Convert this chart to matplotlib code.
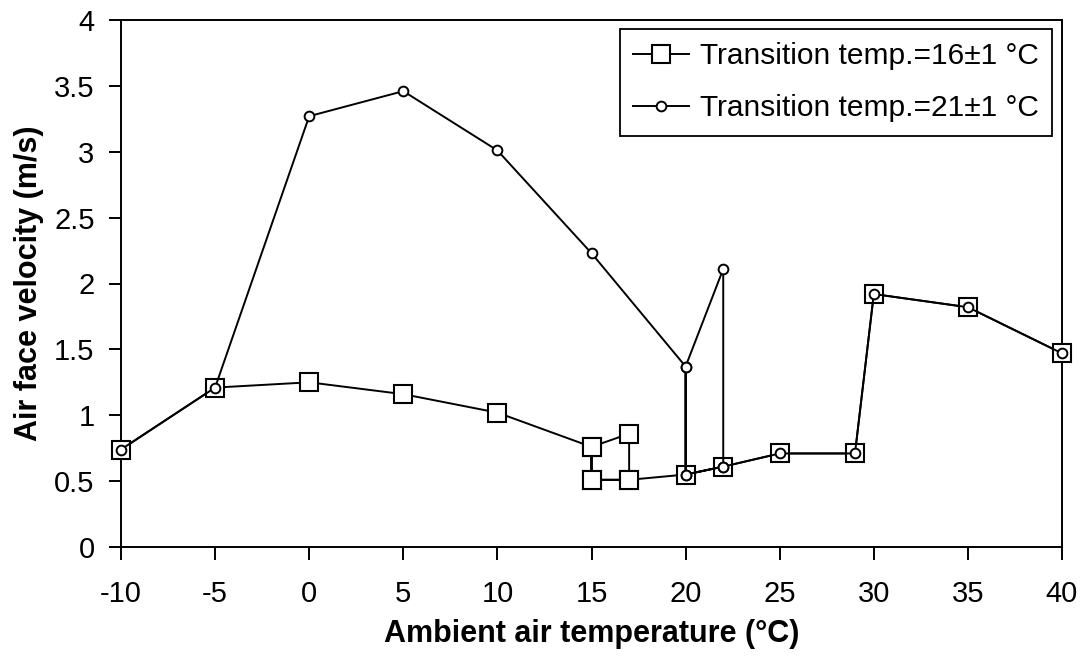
import matplotlib
matplotlib.use("Agg")
import matplotlib.pyplot as plt
import numpy as np

plt.rcParams['font.family'] = ['Liberation Sans', 'DejaVu Sans']

# Transition temperature 16±1 °C (square markers); the 15–17 °C segment
# traces the loop between the upper and lower operating branches.
temp_16 = [-10, -5, 0, 5, 10, 15, 17, 17, 15, 15, 15, 17, 20, 22, 25, 29, 30, 35, 40]
vel_16 = [0.74, 1.21, 1.25, 1.16, 1.02, 0.76, 0.86, 0.51, 0.51, 0.76, 0.51, 0.51,
          0.55, 0.61, 0.71, 0.71, 1.92, 1.82, 1.47]

# Transition temperature 21±1 °C (circle markers); loop between 20 and 22 °C.
temp_21 = [-10, -5, 0, 5, 10, 15, 20, 22, 22, 20, 20, 20, 22, 25, 29, 30, 35, 40]
vel_21 = [0.74, 1.21, 3.27, 3.46, 3.01, 2.23, 1.37, 2.11, 0.61, 0.55, 1.37, 0.55,
          0.61, 0.71, 0.71, 1.92, 1.82, 1.47]

labels = ['Transition temp.=16±1 °C', 'Transition temp.=21±1 °C']
x_ticks = [-10, -5, 0, 5, 10, 15, 20, 25, 30, 35, 40]
y_ticks = [0, 0.5, 1, 1.5, 2, 2.5, 3, 3.5, 4]

fig = plt.figure(figsize=(10.86, 6.57), dpi=100)
ax = fig.add_axes([121 / 1086, 1 - 547 / 657, (1062 - 121) / 1086, (547 - 20) / 657])

ax.plot(temp_16, vel_16, color='black', lw=1.4, marker='s', ms=13,
        mfc='white', mec='black', mew=1.5, label=labels[0], zorder=3,
        clip_on=False)
ax.plot(temp_21, vel_21, color='black', lw=1.4, marker='o', ms=7,
        mfc='white', mec='black', mew=1.4, label=labels[1], zorder=4,
        clip_on=False)

ax.set_xlim(-10, 40)
ax.set_ylim(0, 4)
ax.set_xticks(x_ticks)
ax.set_xticklabels([str(v) for v in x_ticks])
ax.set_yticks(y_ticks)
ax.set_yticklabels([f'{v:g}' for v in y_ticks])
ax.tick_params(direction='out', length=9, width=1.4, labelsize=21, pad=10,
               colors='black')
ax.tick_params(axis='x', pad=15)
for s in ax.spines.values():
    s.set_linewidth(1.4)
    s.set_color('black')

ax.set_xlabel('Ambient air temperature (°C)', fontsize=22, fontweight='bold',
              labelpad=8)
ax.set_ylabel('Air face velocity (m/s)', fontsize=22, fontweight='bold',
              labelpad=7)

leg = ax.legend(loc='upper right', fontsize=21.5, frameon=True, fancybox=False,
                edgecolor='black', framealpha=1, borderpad=0.45,
                handlelength=1.85, handletextpad=0.37, labelspacing=0.8,
                borderaxespad=0, bbox_to_anchor=(0.9894, 0.983))
leg.get_frame().set_linewidth(1.3)

fig.savefig('out.png', dpi=100, facecolor='white')
